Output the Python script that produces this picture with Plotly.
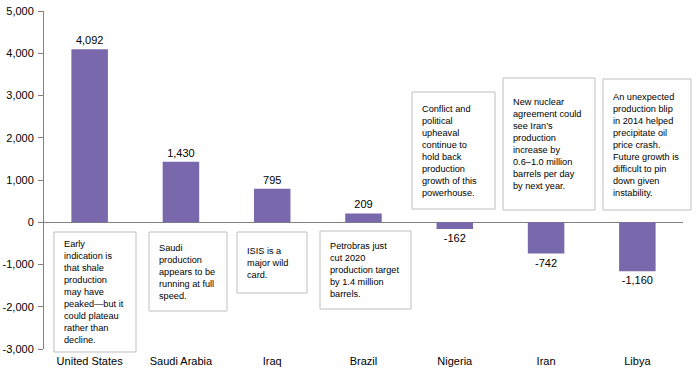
import plotly.graph_objects as go

countries = ["United States", "Saudi Arabia", "Iraq", "Brazil", "Nigeria", "Iran", "Libya"]
changes = [4092, 1430, 795, 209, -162, -742, -1160]
tick_vals = [5000, 4000, 3000, 2000, 1000, 0, -1000, -2000, -3000]
tick_text = ["5,000", "4,000", "3,000", "2,000", "1,000", "0", "-1,000", "-2,000", "-3,000"]
notes = [
    "Early<br>indication is<br>that shale<br>production<br>may have<br>peaked\u2014but it<br>could plateau<br>rather than<br>decline.",
    "Saudi<br>production<br>appears to be<br>running at full<br>speed.",
    "ISIS is a<br>major wild<br>card.",
    "Petrobras just<br>cut 2020<br>production target<br>by 1.4 million<br>barrels.",
    "Conflict and<br>political<br>upheaval<br>continue to<br>hold back<br>production<br>growth of this<br>powerhouse.",
    "New nuclear<br>agreement could<br>see Iran\u2019s<br>production<br>increase by<br>0.6\u20131.0 million<br>barrels per day<br>by next year.",
    "An unexpected<br>production blip<br>in 2014 helped<br>precipitate oil<br>price crash.<br>Future growth is<br>difficult to pin<br>down given<br>instability.",
]

# layout geometry (pixels in the 698x375 page)
W, H = 698, 375
L, R, T, B = 44, 683, 11, 349
# note boxes: (left, top, right, bottom) in pixels
boxes = [
    (54, 232, 136, 352),
    (149, 232, 227, 311),
    (237, 232, 307, 293),
    (320, 231, 411, 309),
    (412, 92, 495, 209),
    (503, 78, 595, 210),
    (603, 79, 691, 210),
]


def px_x(p):
    return (p - L) / (R - L)


def px_y(p):
    return (B - p) / (B - T)


FONT = "Arial, Liberation Sans, sans-serif"
bar_color = "#7A68AD"

fig = go.Figure(
    go.Bar(
        x=countries,
        y=changes,
        width=0.4,
        marker=dict(color=bar_color, line=dict(width=0)),
        text=[f"{v:,}" for v in changes],
        textposition="outside",
        textfont=dict(family=FONT, size=11, color="#000000"),
        cliponaxis=False,
        hoverinfo="x+y",
    )
)

shapes = []
annotations = []
for (x0, y0, x1, y1), note in zip(boxes, notes):
    shapes.append(dict(
        type="rect", xref="paper", yref="paper",
        x0=px_x(x0), x1=px_x(x1), y0=px_y(y1), y1=px_y(y0),
        line=dict(color="#BFBFBF", width=1), fillcolor="white", layer="below",
    ))
    annotations.append(dict(
        xref="paper", yref="paper",
        x=px_x(x0 + 8), y=px_y((y0 + y1) / 2),
        xanchor="left", yanchor="middle", align="left",
        text=note, showarrow=False,
        font=dict(family=FONT, size=9.2, color="#000000"),
    ))

fig.update_layout(
    width=W, height=H,
    margin=dict(l=L, r=W - R, t=T, b=H - B, autoexpand=False),
    paper_bgcolor="white", plot_bgcolor="rgba(0,0,0,0)",
    showlegend=False,
    font=dict(family=FONT, size=11, color="#000000"),
    shapes=shapes,
    annotations=annotations,
    xaxis=dict(
        showline=False, showgrid=False, zeroline=False, ticks="",
        automargin=False, ticklabelstandoff=4,
        tickfont=dict(family=FONT, size=11, color="#000000"),
    ),
    yaxis=dict(
        range=[-3000, 5000],
        tickvals=tick_vals, ticktext=tick_text,
        automargin=False, ticklabelstandoff=2,
        showgrid=False, showline=True, linecolor="#808080", linewidth=1,
        ticks="outside", ticklen=5, tickcolor="#808080",
        zeroline=True, zerolinecolor="#808080", zerolinewidth=1,
        tickfont=dict(family=FONT, size=11, color="#000000"),
    ),
    bargap=0.6,
)

fig.write_html(
    "out.html",
    config={"displayModeBar": False},
    post_script="document.body.style.margin='0';document.body.style.overflow='hidden';",
)
